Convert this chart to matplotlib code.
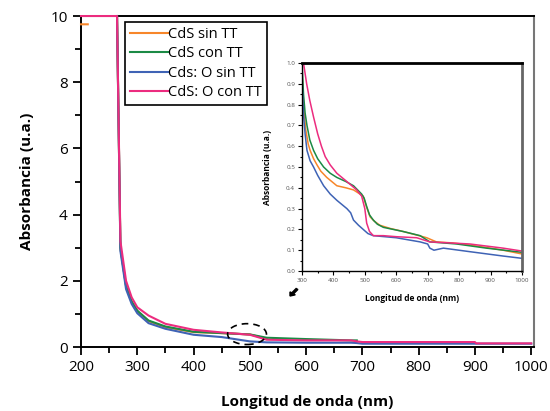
import numpy as np
import matplotlib
matplotlib.use('Agg')
import matplotlib.pyplot as plt
from matplotlib.patches import Ellipse, FancyArrow
from matplotlib.ticker import MultipleLocator, FormatStrFormatter

plt.rcParams['font.family'] = ['Open Sans', 'DejaVu Sans']

labels = ['CdS sin TT', 'CdS con TT', 'Cds: O sin TT', 'CdS: O con TT']
colors = ['#f7862a', '#1b8a45', '#3f63b5', '#ec2c7f']

# main plot data (nan = gap in the trace)
wl_main = [200, 212, 213, 264, 264, 270, 280, 290, 300, 320, 350, 400, 450, 500, 530, 600, 680, 690, 700, 900, 902, 1000]
abs_orange = [9.75, 9.75, np.nan, 10, 10, 3.0, 1.85, 1.35, 1.08, 0.78, 0.6, 0.45, 0.42, 0.38, 0.25, np.nan, np.nan, np.nan, np.nan, np.nan, np.nan, np.nan]
abs_green = [np.nan, np.nan, np.nan, 10, 10, 3.0, 1.85, 1.38, 1.1, 0.8, 0.62, 0.46, 0.42, 0.38, 0.28, 0.24, 0.2, 0.2, np.nan, np.nan, np.nan, np.nan]
abs_blue = [np.nan, np.nan, np.nan, 10, 10, 2.9, 1.75, 1.3, 1.02, 0.72, 0.55, 0.37, 0.3, 0.17, 0.14, 0.13, 0.13, 0.12, 0.1, 0.1, 0.1, 0.1]
abs_pink = [10, 10, 10, 10, 10, 3.2, 2.0, 1.5, 1.2, 0.95, 0.7, 0.52, 0.44, 0.37, 0.22, 0.2, 0.2, 0.17, 0.15, 0.15, 0.11, 0.11]

# inset data
wl_in_orange = [300, 305, 312, 320, 326, 337, 348, 360, 379, 411, 440, 464, 495, 505, 517, 530, 548, 580, 622, 660, 697, 728, 780, 834, 900, 940, 1000]
in_orange = [0.95, 0.80, 0.68, 0.61, 0.58, 0.54, 0.51, 0.48, 0.45, 0.41, 0.40, 0.39, 0.36, 0.31, 0.26, 0.24, 0.22, 0.205, 0.19, 0.175, 0.16, 0.14, 0.135, 0.125, 0.11, 0.10, 0.082]
wl_in_green = [300, 305, 310, 316, 325, 337, 350, 369, 390, 411, 440, 464, 490, 498, 506, 515, 527, 540, 559, 622, 676, 707, 792, 887, 1000]
in_green = [1.0, 0.85, 0.76, 0.70, 0.63, 0.58, 0.54, 0.50, 0.47, 0.45, 0.43, 0.41, 0.37, 0.35, 0.31, 0.27, 0.245, 0.225, 0.21, 0.19, 0.17, 0.14, 0.13, 0.11, 0.09]
wl_in_blue = [300, 305, 310, 316, 326, 337, 350, 369, 390, 411, 443, 455, 464, 480, 495, 510, 527, 600, 676, 700, 707, 720, 750, 834, 940, 1000]
in_blue = [0.93, 0.75, 0.66, 0.58, 0.53, 0.50, 0.46, 0.41, 0.37, 0.34, 0.30, 0.28, 0.245, 0.22, 0.20, 0.18, 0.17, 0.16, 0.14, 0.13, 0.11, 0.10, 0.11, 0.093, 0.072, 0.061]
wl_in_pink = [305, 315, 325, 337, 350, 362, 374, 390, 411, 443, 474, 490, 500, 506, 515, 527, 559, 600, 665, 707, 834, 940, 1000]
in_pink = [1.0, 0.90, 0.82, 0.74, 0.66, 0.60, 0.55, 0.51, 0.47, 0.43, 0.39, 0.36, 0.30, 0.23, 0.19, 0.17, 0.17, 0.165, 0.16, 0.14, 0.13, 0.11, 0.096]

main_y = [abs_orange, abs_green, abs_blue, abs_pink]
inset_x = [wl_in_orange, wl_in_green, wl_in_blue, wl_in_pink]
inset_y = [in_orange, in_green, in_blue, in_pink]

fig = plt.figure(figsize=(5.5, 4.11), dpi=100)
ax = fig.add_axes([0.1473, 0.1557, 0.971 - 0.1473, 0.961 - 0.1557])

for i, (y, c, lab) in enumerate(zip(main_y, colors, labels)):
    ax.plot(wl_main, y, color=c, lw=1.5, label=lab, clip_on=False, zorder=3 + i * 0.1)

ax.set_xlim(200, 1005)
ax.set_ylim(0, 10)
ax.set_xticks(range(200, 1001, 100))
ax.xaxis.set_minor_locator(MultipleLocator(50))
ax.yaxis.set_major_locator(MultipleLocator(2))
ax.yaxis.set_minor_locator(MultipleLocator(1))
ax.tick_params(which='both', direction='out', width=1.3, labelsize=11)
ax.tick_params(which='major', length=6)
ax.tick_params(which='minor', length=4)
for s in ['left', 'bottom', 'top']:
    ax.spines[s].set_linewidth(1.4)
ax.spines['right'].set_color('#777777')
ax.spines['right'].set_linewidth(1.5)
ax.set_xlabel('Longitud de onda (nm)', fontsize=11, fontweight='bold', labelpad=14)
ax.set_ylabel('Absorbancia (u.a.)', fontsize=11, fontweight='bold', labelpad=12)

ell = Ellipse((495, 0.39), 69, 0.63, fill=False, ls=(0, (4, 3)), lw=1.2, color='black', zorder=5)
ax.add_patch(ell)

leg = ax.legend(loc='upper left', bbox_to_anchor=(125 / 550, 1 - 22 / 411), bbox_transform=fig.transFigure,
                fontsize=10.5, handlelength=2.6, handletextpad=0.0, labelspacing=0.3,
                borderpad=0.35, borderaxespad=0, fancybox=False, framealpha=1, edgecolor='black')
leg.get_frame().set_linewidth(1.2)

# inset
ins = fig.add_axes([0.549, 0.3406, 0.4, 0.506])
for xs, ys, c in zip(inset_x, inset_y, colors):
    ins.plot(xs, ys, color=c, lw=1.1)
ins.set_xlim(300, 1000)
ins.set_ylim(0, 1.0)
ins.xaxis.set_major_locator(MultipleLocator(100))
ins.xaxis.set_minor_locator(MultipleLocator(50))
ins.yaxis.set_major_locator(MultipleLocator(0.1))
ins.yaxis.set_minor_locator(MultipleLocator(0.05))
ins.yaxis.set_major_formatter(FormatStrFormatter('%.1f'))
ins.tick_params(which='both', direction='out', width=0.8, labelsize=4.5, labelcolor='#555555', pad=2)
ins.tick_params(which='major', length=3)
ins.tick_params(which='minor', length=1.5)
ins.spines['left'].set_linewidth(1.0)
ins.spines['bottom'].set_linewidth(1.0)
ins.spines['top'].set_linewidth(2.0)
ins.spines['right'].set_linewidth(2.0)
ins.spines['right'].set_color('#666666')
ins.set_xlabel('Longitud de onda (nm)', fontsize=6, fontweight='bold', labelpad=8)
ins.set_ylabel('Absorbancia (u.a.)', fontsize=6, fontweight='bold', labelpad=10)

# small arrow marker below the inset
fig.add_artist(FancyArrow(297 / 550, 1 - 289 / 411, -7 / 550, -7 / 411,
                          width=0.004, head_width=0.012, head_length=0.008,
                          color='black', transform=fig.transFigure,
                          length_includes_head=True))

fig.savefig('out.png', dpi=100)
